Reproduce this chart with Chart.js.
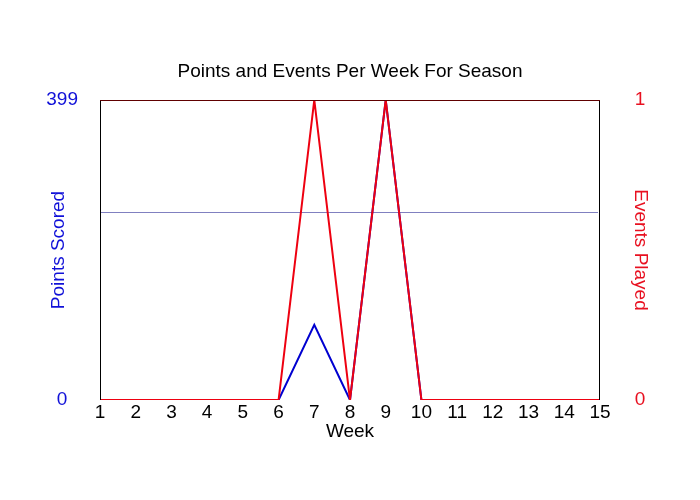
<!DOCTYPE html>
<html>
<head>
<meta charset="utf-8">
<script src="https://cdn.jsdelivr.net/npm/chart.js@4"></script>
<style>
  html, body { margin: 0; padding: 0; background: #fff; }
  #wrap { width: 700px; height: 500px; }
</style>
</head>
<body>
<div id="wrap"><canvas id="chart" width="700" height="500"></canvas></div>
<script>
// data
const weeks = ['1', '2', '3', '4', '5', '6', '7', '8', '9', '10', '11', '12', '13', '14', '15'];
const pointsScored = [0, 0, 0, 0, 0, 0, 100, 0, 399, 0, 0, 0, 0, 0, 0];
const eventsPlayed = [0, 0, 0, 0, 0, 0, 1, 0, 1, 0, 0, 0, 0, 0, 0];
const pointsTicks = [0, 399];
const eventsTicks = [0, 1];
const avgPoints = 249.5;

const FONT = 'Arial, "Liberation Sans", sans-serif';
const SIZE = 19;

// border round the plot + average points line
const frame = {
    id: 'frame',
    beforeDatasetsDraw(chart) {
        const { ctx, chartArea: a, scales } = chart;
        const y = Math.round(scales.y.getPixelForValue(avgPoints)) + 0.5;
        ctx.save();
        ctx.strokeStyle = '#8080c0';
        ctx.lineWidth = 1;
        ctx.beginPath();
        ctx.moveTo(a.left, y);
        ctx.lineTo(a.right - 2, y);
        ctx.stroke();
        ctx.restore();
    },
    afterDatasetsDraw(chart) {
        const { ctx, chartArea: a } = chart;
        ctx.save();
        ctx.lineWidth = 1;
        ctx.strokeStyle = '#000';
        ctx.beginPath();
        ctx.moveTo(a.left + 0.5, a.top);
        ctx.lineTo(a.left + 0.5, a.bottom);
        ctx.moveTo(a.right - 0.5, a.top);
        ctx.lineTo(a.right - 0.5, a.bottom);
        ctx.stroke();
        ctx.strokeStyle = '#600000';
        ctx.beginPath();
        ctx.moveTo(a.left, a.top + 0.5);
        ctx.lineTo(a.right, a.top + 0.5);
        ctx.stroke();
        ctx.restore();
    }
};

new Chart(document.getElementById('chart'), {
    type: 'line',
    data: {
        labels: weeks,
        datasets: [{
            label: 'Events Played',
            data: eventsPlayed,
            yAxisID: 'y1',
            borderColor: '#ee0010',
            borderWidth: 2,
            pointRadius: 0,
            tension: 0,
            fill: false
        }, {
            label: 'Points Scored',
            data: pointsScored,
            yAxisID: 'y',
            borderColor: '#0000d0',
            borderWidth: 2,
            pointRadius: 0,
            tension: 0,
            fill: false
        }]
    },
    options: {
        responsive: false,
        animation: false,
        devicePixelRatio: 1,
        layout: { padding: 0 },
        plugins: {
            legend: { display: false },
            tooltip: { enabled: false },
            title: {
                display: true,
                text: 'Points and Events Per Week For Season',
                color: '#000',
                font: { family: FONT, size: SIZE, weight: 'normal', lineHeight: 1.2 },
                padding: { top: 60.6, bottom: 16.6 }
            }
        },
        scales: {
            x: {
                offset: false,
                grid: { display: false, drawTicks: false },
                border: { display: false },
                ticks: {
                    color: '#000',
                    font: { family: FONT, size: SIZE },
                    padding: 1,
                    maxRotation: 0,
                    autoSkip: false
                },
                title: {
                    display: true,
                    text: 'Week',
                    color: '#000',
                    font: { family: FONT, size: SIZE, lineHeight: 1.2 },
                    padding: { top: 0, bottom: 56.6 }
                },
                afterFit(s) { s.height = 100; }
            },
            y: {
                position: 'left',
                min: 0,
                max: 399,
                grid: { display: false, drawTicks: false },
                border: { display: false },
                afterBuildTicks(s) { s.ticks = pointsTicks.map(v => ({ value: v })); },
                ticks: {
                    color: '#1010d8',
                    font: { family: FONT, size: SIZE },
                    crossAlign: 'center',
                    padding: 22
                },
                title: {
                    display: true,
                    text: 'Points Scored',
                    color: '#1010d8',
                    font: { family: FONT, size: SIZE, lineHeight: 1.2 },
                    padding: { top: 47.5, bottom: 0 }
                },
                afterFit(s) { s.width = 100; }
            },
            y1: {
                position: 'right',
                min: 0,
                max: 1,
                grid: { display: false, drawTicks: false },
                border: { display: false },
                afterBuildTicks(s) { s.ticks = eventsTicks.map(v => ({ value: v })); },
                ticks: {
                    color: '#e81020',
                    font: { family: FONT, size: SIZE },
                    crossAlign: 'center',
                    padding: 34.7
                },
                title: {
                    display: true,
                    text: 'Events Played',
                    color: '#e81020',
                    font: { family: FONT, size: SIZE, lineHeight: 1.2 },
                    padding: { top: 48.6, bottom: 0 }
                },
                afterFit(s) { s.width = 100; }
            }
        }
    },
    plugins: [frame]
});
</script>
</body>
</html>
